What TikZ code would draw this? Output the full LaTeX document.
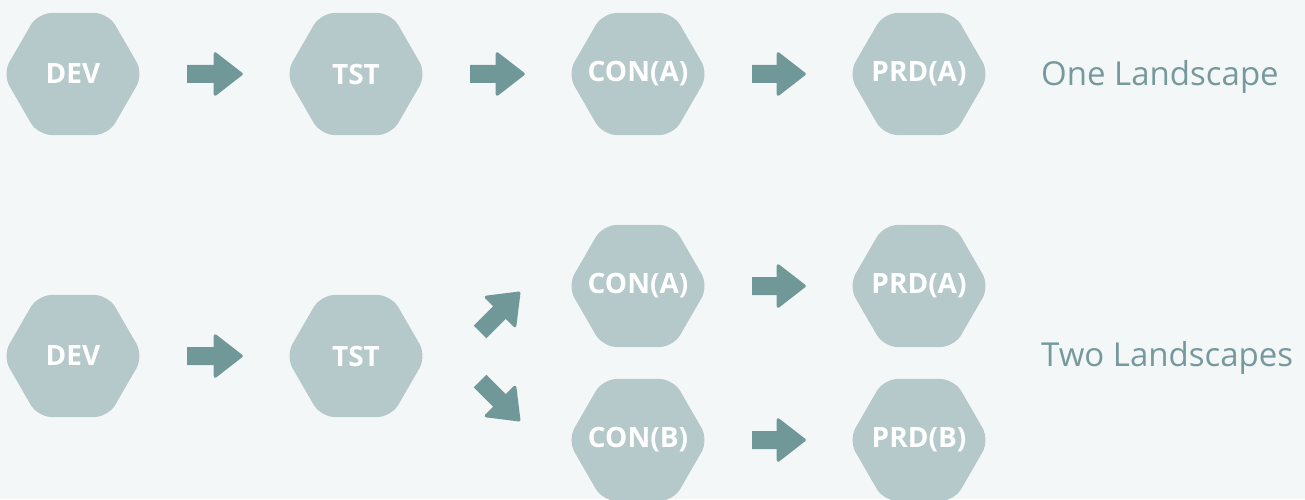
\documentclass[tikz,border=0pt]{standalone}
\usepackage{fontspec}
\setmainfont{Open Sans}
\usetikzlibrary{shapes.geometric,arrows.meta}
\definecolor{bgc}{HTML}{F4F7F8}
\definecolor{hexc}{HTML}{B5C9CA}
\definecolor{arrc}{HTML}{719899}
\definecolor{lblc}{HTML}{76999C}
\tikzset{
	hexa/.style={regular polygon, regular polygon sides=6, minimum size=141pt, inner sep=0pt,
		fill=hexc, rounded corners=14pt, text=white, font=\bfseries\fontsize{28}{28}\selectfont,
		execute at begin node={\hbox to 0pt\bgroup\hss}, execute at end node={\hss\egroup}},
	blk/.style={draw=arrc, line width=18pt, -{Triangle[length=30pt,width=46pt,line width=3pt,round]}},
	link/.style={blk, shorten <=43.5pt, shorten >=42.5pt},
	lbl/.style={inner sep=0pt, anchor=base west, text=lblc, font=\fontsize{33}{33}\selectfont}
}
\begin{document}
\begin{tikzpicture}[x=1pt, y=1pt, line join=round]
		\fill[bgc] (0,0) rectangle (1305,499);
		\useasboundingbox (0,0) rectangle (1305,499);
		% one landscape
		\path (73,425) node[hexa] (dev1) {DEV} (356,425) node[hexa] (tst1) {TST}
		(638,425) node[hexa] (cona1) {CON(A)} (919,425) node[hexa] (prda1) {PRD(A)};
		\foreach \a/\b in {dev1/tst1, tst1/cona1, cona1/prda1} \draw[link] (\a) -- (\b);
		\node[lbl] (one) at (1041,413) {One Landscape};
		% two landscapes
		\path (73,143) node[hexa] (dev2) {DEV} (356,143) node[hexa] (tst2) {TST}
		(638,213) node[hexa] (cona2) {CON(A)} (919,213) node[hexa] (prda2) {PRD(A)}
		(638,59) node[hexa] (conb2) {CON(B)} (919,59) node[hexa] (prdb2) {PRD(B)};
		\foreach \a/\b in {dev2/tst2, cona2/prda2, conb2/prdb2} \draw[link] (\a) -- (\b);
		\draw[blk] ([shift={(124,24)}]tst2.center) -- ++(45:56.6);
		\draw[blk] ([shift={(124,-25)}]tst2.center) -- ++(-45:56.6);
		\node[lbl] (two) at (1041,133) {Two Landscapes};
\end{tikzpicture}
\end{document}
